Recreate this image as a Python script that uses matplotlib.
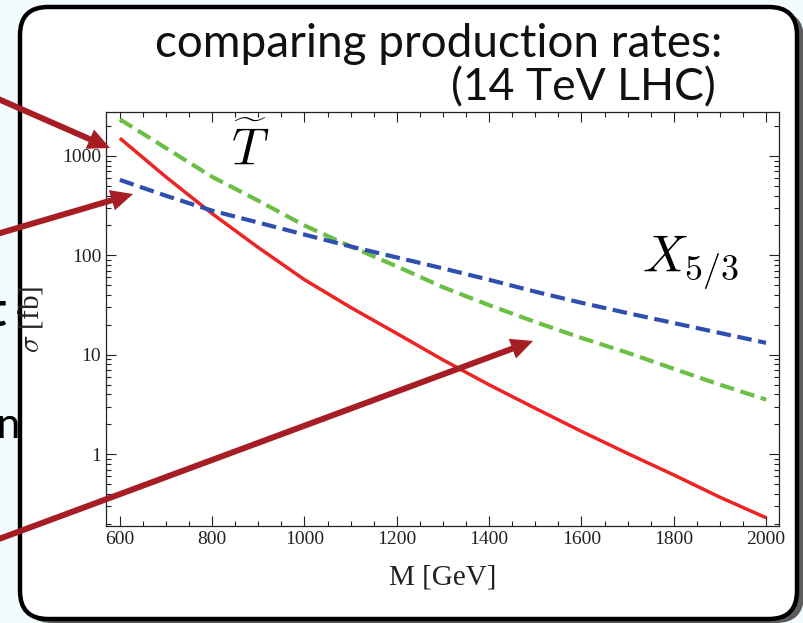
import numpy as np
import matplotlib
matplotlib.use("Agg")
import matplotlib.pyplot as plt
from matplotlib.patches import FancyBboxPatch, FancyArrow
from matplotlib.ticker import MultipleLocator, LogLocator, NullFormatter

plt.rcParams["mathtext.fontset"] = "cm"

# Data (sigma in fb vs mass in GeV)
mass = [600, 700, 800, 900, 1000, 1100, 1200, 1300, 1400, 1500, 1600, 1700, 1800, 1900, 2000]
sigma_red = [1510, 615, 263, 120, 57, 30, 16.4, 8.9, 5.0, 2.9, 1.7, 1.02, 0.62, 0.37, 0.23]
sigma_green = [2340, 1200, 617, 355, 200, 123, 77.6, 47.9, 31.6, 21.4, 14.8, 10.5, 7.24, 5.01, 3.55]
sigma_blue = [575, 398, 282, 214, 162, 123, 95.5, 74.1, 56.9, 43.2, 33.4, 26.3, 20.9, 16.6, 13.2]

xticks = [600, 800, 1000, 1200, 1400, 1600, 1800, 2000]
yticks = [1, 10, 100, 1000]
ytick_labels = ["1", "10", "100", "1000"]

fig = plt.figure(figsize=(8.04, 6.23), dpi=100)
fig.patch.set_facecolor("#f2fbfd")

# slide background: rounded box with a shadow, in pixel coords
bg = fig.add_axes([0, 0, 1, 1], zorder=0)
bg.set_xlim(0, 804)
bg.set_ylim(623, 0)
bg.axis("off")
bg.add_patch(FancyBboxPatch((24, 11), 780, 612, boxstyle="round,pad=0,rounding_size=28",
                            fc="#5c5c5c", ec="none"))
bg.add_patch(FancyBboxPatch((20, 7), 777, 612, boxstyle="round,pad=0,rounding_size=28",
                            fc="white", ec="black", lw=3.2))

# cut-off slide text on the left
bg.text(-12, 326, "t", fontsize=34, fontweight="bold", family="Lato", va="baseline", ha="left")
bg.text(-4, 438, "n", fontsize=30, family="Lato", va="baseline", ha="left")
bg.text(-7, 648, "e", fontsize=30, family="Lato", va="baseline", ha="left")

# title
bg.text(722, 57, "comparing production rates:", fontsize=33, family="Lato",
        ha="right", va="baseline", color="#111111")
bg.text(716, 100, "(14 TeV LHC)", fontsize=32, family="Lato",
        ha="right", va="baseline", color="#111111")

# the chart
ax = fig.add_axes([106 / 804, 1 - 526 / 623, 673 / 804, 414 / 623], zorder=1)
ax.set_yscale("log")
ax.plot(mass, sigma_red, color="#ec2424", lw=2.5, solid_capstyle="butt")
ax.plot(mass, sigma_green, color="#6cbf45", lw=3, dashes=(3.5, 1.6))
ax.plot(mass, sigma_blue, color="#2f4fae", lw=3, dashes=(3.5, 1.6))
ax.set_xlim(570, 2028)
ax.set_ylim(0.19, 2770)

ax.set_xticks(xticks)
ax.xaxis.set_minor_locator(MultipleLocator(50))
ax.set_yticks(yticks)
ax.set_yticklabels(ytick_labels)
ax.yaxis.set_minor_locator(LogLocator(base=10, subs=np.arange(2, 10)))
ax.yaxis.set_minor_formatter(NullFormatter())
ax.tick_params(which="both", direction="in", top=True, right=True, width=0.8, color="#222222")
ax.tick_params(which="major", length=7, labelsize=14, labelcolor="#222222")
ax.tick_params(which="minor", length=3.5)
for lab in ax.get_xticklabels() + ax.get_yticklabels():
    lab.set_family("Liberation Serif")
for sp in ax.spines.values():
    sp.set_linewidth(0.9)
    sp.set_color("#222222")

ax.set_xlabel("M [GeV]", fontsize=21, family="Liberation Serif", color="#222222")
ax.xaxis.set_label_coords(0.5, -0.093)
ax.set_ylabel(r"$\sigma$ [fb]", fontsize=21, family="Liberation Serif", color="#222222")
ax.yaxis.set_label_coords(-0.09, 0.5)

ax.text(840, 800, r"$\widetilde{T}$", fontsize=37, ha="left", va="baseline")
ax.text(1732, 68, r"$X_{5/3}$", fontsize=37, ha="left", va="baseline")

# red arrows pointing into the chart
fg = fig.add_axes([0, 0, 1, 1], zorder=3)
fg.set_xlim(0, 804)
fg.set_ylim(623, 0)
fg.axis("off")
fg.patch.set_alpha(0)
arrows = [((-20, 91), (110, 148)), ((-20, 239), (133, 194)), ((-20, 546), (533, 341))]
for (x0, y0), (x1, y1) in arrows:
    fg.add_patch(FancyArrow(x0, y0, x1 - x0, y1 - y0, width=6, head_width=21, head_length=22,
                            length_includes_head=True, color="#a61d24", lw=0))

plt.savefig("out.png", dpi=100, facecolor=fig.get_facecolor())
